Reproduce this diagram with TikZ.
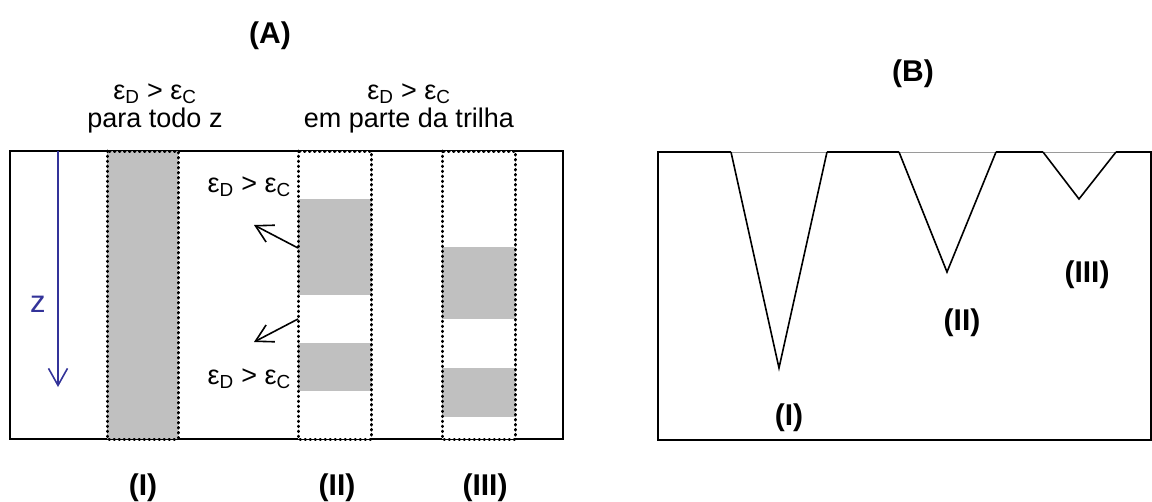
\documentclass[tikz,border=0pt]{standalone}
\usepackage{fontspec}
\setmainfont{Liberation Sans}
\usetikzlibrary{arrows.meta}
\definecolor{zblue}{HTML}{333399}
\definecolor{trackgray}{HTML}{C0C0C0}
\definecolor{rimgray}{HTML}{9A9A9A}
\newcommand{\edc}{ε\textsubscript{D} > ε\textsubscript{C}}
\tikzset{
  frame/.style={draw=black,line width=2.6pt},
  trackcol/.style={draw=black,line width=3pt,line cap=round,dash pattern=on 0.6pt off 4.4pt},
  plain/.style={font=\fontsize{27}{28}\selectfont,inner sep=0pt},
  tag/.style={font=\fontsize{30}{30}\selectfont\bfseries,inner sep=0pt},
  pointer/.style={-{Straight Barb[length=17pt,width=19pt]},line width=1.6pt},
  zarrow/.style={-{Straight Barb[length=17pt,width=19pt]},line width=1.6pt,zblue},
  cone/.style={line width=1.6pt,line join=miter}
}

\begin{document}
\begin{tikzpicture}[x=1pt,y=-1pt]
  \useasboundingbox (0,0) rectangle (1152,501);
  % panel (A)
  \draw[frame] (10,151) rectangle (563,439);
  \fill[trackgray] (107,151) rectangle (178,439);
  \draw[trackcol] (107,151) rectangle (178,439);
  \fill[white] (298,151) rectangle (371,439);
  \fill[trackgray] (298,199) rectangle (371,295);
  \fill[trackgray] (298,343) rectangle (371,391);
  \draw[trackcol] (298,151) rectangle (371,439);
  \fill[white] (442,151) rectangle (515,439);
  \fill[trackgray] (442,247) rectangle (515,319);
  \fill[trackgray] (442,368) rectangle (515,417);
  \draw[trackcol] (442,151) rectangle (515,439);

  \coordinate (ztop) at (58,151);
  \coordinate (zend) at (58,387);
  \draw[zarrow] (ztop) -- (zend);
  \node[plain,font=\fontsize{31}{31}\selectfont,text=zblue,anchor=base] (zlab) at (38,312) {z};

  \coordinate (tailup) at (298,248);
  \coordinate (tipup) at (254,225);
  \coordinate (taildown) at (298,319);
  \coordinate (tipdown) at (254,342);
  \draw[pointer] (tailup) -- (tipup);
  \draw[pointer] (taildown) -- (tipdown);

  \node[tag,anchor=base] (titleA) at (270,43) {(A)};
  \node[plain,align=center,anchor=base] (allz) at (155,127) {\edc\\para todo z};
  \node[plain,align=center,anchor=base] (part) at (409,127) {\edc\\em parte da trilha};
  \node[plain,anchor=base east] (upperlab) at (291,192) {\edc};
  \node[plain,anchor=base east] (lowerlab) at (291,384) {\edc};
  \node[tag,anchor=base] (colone) at (143,495) {(I)};
  \node[tag,anchor=base] (coltwo) at (337,495) {(II)};
  \node[tag,anchor=base] (colthree) at (485,495) {(III)};

  % panel (B)
  \draw[frame] (731,152) -- (658,152) -- (658,440) -- (1151,440) -- (1151,152) -- (1116,152);
  \draw[frame] (827,152) -- (899,152);
  \draw[frame] (996,152) -- (1043,152);
  \draw[rimgray,line width=1pt] (731,152) -- (827,152) (899,152) -- (996,152) (1043,152) -- (1116,152);
  \draw[cone] (731,152) -- (779,368) -- (827,152);
  \draw[cone] (899,152) -- (947,272) -- (996,152);
  \draw[cone] (1043,152) -- (1079,199) -- (1116,152);

  \node[tag,anchor=base] (titleB) at (913,81) {(B)};
  \node[tag,anchor=base] (pitone) at (789,425) {(I)};
  \node[tag,anchor=base] (pittwo) at (962,330) {(II)};
  \node[tag,anchor=base] (pitthree) at (1087,282) {(III)};
\end{tikzpicture}
\end{document}
